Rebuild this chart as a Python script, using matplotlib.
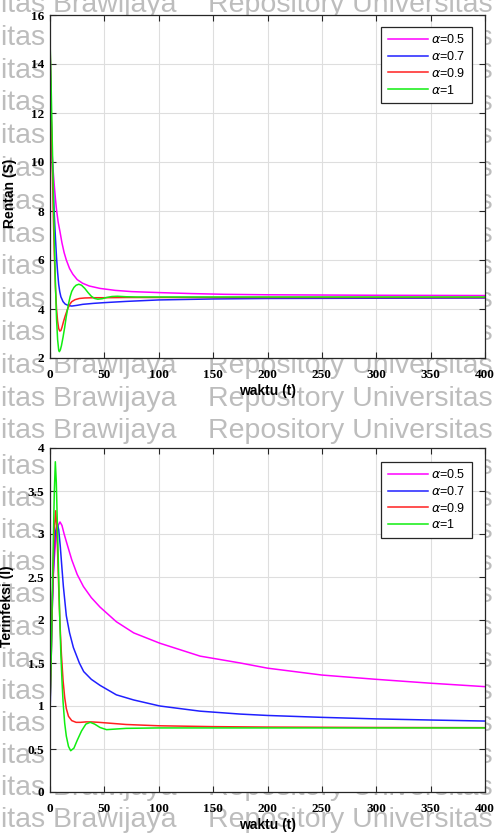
import matplotlib
matplotlib.use("Agg")
import matplotlib.pyplot as plt

# ---------------- data ----------------
labels = [r"$\alpha$=0.5", r"$\alpha$=0.7", r"$\alpha$=0.9", r"$\alpha$=1"]
colors = ["#ff00ff", "#2020ff", "#ff2020", "#10ee10"]

# Top panel: Rentan (S)
t_S05 = [0, 0.3, 1, 2, 3, 4, 5, 6, 7.5, 9, 11, 13, 15, 18, 21, 25, 30, 36, 46, 60, 75, 100, 130, 160, 200, 250, 300, 350, 400]
S05 = [15, 12.2, 11.2, 10.3, 9.6, 9.0, 8.5, 8.05, 7.55, 7.2, 6.7, 6.3, 6.0, 5.65, 5.42, 5.2, 5.05, 4.94, 4.84, 4.76, 4.71, 4.67, 4.63, 4.6, 4.58, 4.57, 4.56, 4.555, 4.55]

t_S07 = [0, 0.5, 1, 2, 3, 4, 5, 6, 7, 8, 9, 10, 12, 14, 17, 20, 25, 30, 40, 50, 70, 100, 150, 200, 300, 400]
S07 = [15, 13.3, 12.0, 10.2, 8.9, 7.8, 6.9, 6.1, 5.5, 5.0, 4.7, 4.5, 4.3, 4.2, 4.14, 4.12, 4.15, 4.19, 4.23, 4.26, 4.31, 4.37, 4.41, 4.43, 4.44, 4.45]

t_S09 = [0, 0.5, 1, 2, 3, 4, 5, 6, 7, 8, 9, 10, 11, 12.5, 14, 16, 18, 20, 23, 27, 32, 40, 50, 70, 100, 200, 400]
S09 = [15, 13.7, 12.4, 10.0, 7.9, 6.2, 4.9, 4.0, 3.5, 3.2, 3.1, 3.12, 3.25, 3.5, 3.72, 3.98, 4.18, 4.3, 4.38, 4.43, 4.45, 4.46, 4.46, 4.47, 4.47, 4.47, 4.47]

t_S10 = [0, 1, 2, 3, 4, 5, 6, 7, 8, 8.6, 9.5, 10.5, 12, 13.5, 15, 17, 18.5, 20, 22, 24, 26.5, 29, 32, 35, 38, 41, 44, 48, 52, 57, 62, 70, 80, 100, 150, 200, 400]
S10 = [15, 13.2, 11.0, 8.9, 6.8, 5.0, 3.6, 2.75, 2.32, 2.26, 2.33, 2.5, 2.85, 3.25, 3.7, 4.2, 4.5, 4.72, 4.88, 4.97, 5.01, 4.97, 4.84, 4.67, 4.52, 4.43, 4.4, 4.42, 4.47, 4.51, 4.52, 4.5, 4.49, 4.49, 4.49, 4.49, 4.49]

# Bottom panel: Terinfeksi (I)
t_I05 = [0, 0.3, 1, 2, 3, 4, 5, 6, 7.5, 9.2, 11, 13, 15.3, 20, 25, 30.7, 38, 46, 61, 77, 101, 138, 175, 200, 250, 300, 350, 400]
I05 = [1.0, 1.45, 1.8, 2.2, 2.5, 2.72, 2.88, 3.0, 3.1, 3.14, 3.1, 3.0, 2.9, 2.7, 2.53, 2.39, 2.26, 2.15, 1.98, 1.85, 1.73, 1.58, 1.5, 1.44, 1.36, 1.31, 1.265, 1.225]

t_I07 = [0, 1, 2, 3, 4, 5, 6.7, 8, 9.5, 11, 12.3, 15, 18, 21.5, 27, 31, 38, 46, 61, 77, 101, 138, 175, 200, 250, 300, 350, 400]
I07 = [0.87, 1.5, 2.1, 2.55, 2.85, 3.02, 3.12, 3.05, 2.85, 2.6, 2.39, 2.05, 1.85, 1.68, 1.5, 1.4, 1.31, 1.24, 1.13, 1.07, 1.0, 0.94, 0.906, 0.89, 0.868, 0.85, 0.837, 0.825]

t_I09 = [0, 1, 2, 3, 4, 5.2, 6.2, 7.2, 8.2, 9.2, 10.5, 12, 13.5, 15, 17, 20, 24, 28, 33, 38, 45, 55, 70, 100, 150, 200, 300, 400]
I09 = [1.0, 1.5, 2.1, 2.65, 3.05, 3.27, 3.1, 2.7, 2.3, 1.95, 1.6, 1.3, 1.1, 0.97, 0.88, 0.83, 0.81, 0.81, 0.815, 0.815, 0.81, 0.8, 0.785, 0.77, 0.76, 0.755, 0.75, 0.748]

t_I10 = [0, 1, 2, 3, 4, 4.9, 5.8, 7, 8, 9, 10, 11, 12, 13.5, 15, 17, 19, 22, 25, 29, 33, 37, 41, 46, 52, 58, 70, 100, 200, 400]
I10 = [1.0, 1.5, 2.2, 2.9, 3.5, 3.84, 3.6, 3.0, 2.5, 2.0, 1.6, 1.3, 1.05, 0.8, 0.65, 0.53, 0.48, 0.51, 0.6, 0.71, 0.79, 0.81, 0.79, 0.75, 0.725, 0.73, 0.74, 0.745, 0.745, 0.745]

x_ticks = [0, 50, 100, 150, 200, 250, 300, 350, 400]
x_ticklabels = ["0", "50", "100", "150", "200", "250", "300", "350", "400"]
S_ticks = [2, 4, 6, 8, 10, 12, 14, 16]
S_ticklabels = ["2", "4", "6", "8", "10", "12", "14", "16"]
I_ticks = [0, 0.5, 1, 1.5, 2, 2.5, 3, 3.5, 4]
I_ticklabels = ["0", "0.5", "1", "1.5", "2", "2.5", "3", "3.5", "4"]

xlabel = "waktu (t)"
ylabel_S = "Rentan (S)"
ylabel_I = "Terinfeksi (I)"

wm_left = "itas Brawijaya"
wm_right = "Repository Universitas"

# ---------------- figure ----------------
W, H = 494, 835
fig = plt.figure(figsize=(W / 100, H / 100), dpi=100)
fig.patch.set_facecolor("white")

# watermark rows (behind the axes)
rows = [12 + 32.8 * k for k in range(14)] + [442 + 32.1 * k for k in range(1, 13)]
for yb in rows:
    fig.text(1 / W, 1 - yb / H, wm_left, fontsize=20.5, color="#bdbdbd",
             family="Liberation Sans", va="baseline", ha="left", zorder=-5)
    fig.text(208 / W, 1 - yb / H, wm_right, fontsize=20.5, color="#bdbdbd",
             family="Liberation Sans", va="baseline", ha="left", zorder=-5)

ax1 = fig.add_axes([50 / W, 1 - 358 / H, 435 / W, 343 / H])
ax2 = fig.add_axes([50 / W, 1 - 792 / H, 435 / W, 344 / H])

tick_font = dict(family="Liberation Serif", weight="bold", size=9.5)
label_font = dict(family=["Liberation Sans Narrow", "Liberation Sans"], weight="bold", size=10)


def style(ax, yticks, yticklabels, ylim, ylabel, ylab_x, ylab_y):
    ax.set_facecolor("white")
    ax.set_xlim(0, 400)
    ax.set_ylim(*ylim)
    ax.set_xticks(x_ticks)
    ax.set_xticklabels(x_ticklabels, **tick_font)
    ax.set_yticks(yticks)
    ax.set_yticklabels(yticklabels, **tick_font)
    ax.tick_params(direction="in", length=4, width=0.8, top=True, right=True,
                   color="#262626")
    ax.tick_params(axis="x", pad=8)
    ax.tick_params(axis="y", pad=4)
    ax.grid(True, color="#dedede", lw=0.8)
    ax.set_axisbelow(True)
    for sp in ax.spines.values():
        sp.set_color("#262626")
        sp.set_linewidth(0.9)
    ax.set_xlabel(xlabel, labelpad=2, **label_font)
    ax.set_ylabel(ylabel, **label_font)
    ax.yaxis.set_label_coords(ylab_x, ylab_y)


for t, y, c, lab in zip([t_S05, t_S07, t_S09, t_S10], [S05, S07, S09, S10], colors, labels):
    ax1.plot(t, y, color=c, lw=1.1, label=lab)
for t, y, c, lab in zip([t_I05, t_I07, t_I09, t_I10], [I05, I07, I09, I10], colors, labels):
    ax2.plot(t, y, color=c, lw=1.1, label=lab)

style(ax1, S_ticks, S_ticklabels, (2, 16), ylabel_S, -0.075, 0.48)
style(ax2, I_ticks, I_ticklabels, (0, 4), ylabel_I, -0.083, 0.54)

for ax, top in [(ax1, (358 - 27) / 343), (ax2, (792 - 462) / 344)]:
    leg = ax.legend(loc="upper right", bbox_to_anchor=(0.970, top),
                    prop=dict(family="Liberation Sans", size=9),
                    handlelength=3.2, handletextpad=0.3, labelspacing=0.3,
                    borderpad=0.5, borderaxespad=0, fancybox=False,
                    framealpha=1, edgecolor="#262626")
    leg.get_frame().set_linewidth(0.9)

fig.savefig("out.png", dpi=100)
